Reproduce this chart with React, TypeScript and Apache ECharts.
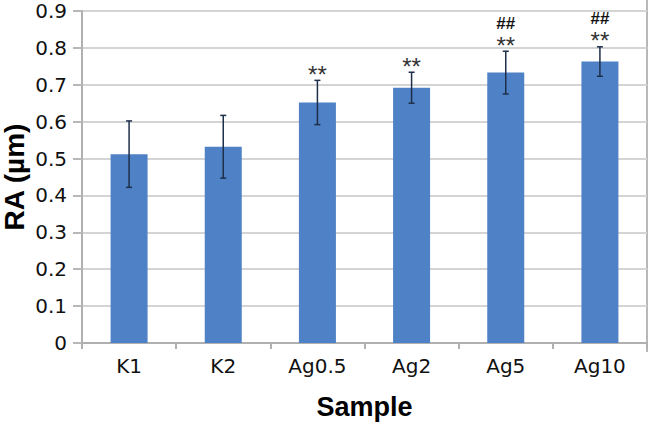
import React, { useEffect, useRef } from "react";
import * as echarts from "echarts";

const categories = ["K1", "K2", "Ag0.5", "Ag2", "Ag5", "Ag10"];
const means = [0.512, 0.532, 0.652, 0.692, 0.733, 0.763];
const errors = [0.09, 0.085, 0.06, 0.042, 0.058, 0.04];
const starMarks = ["", "", "**", "**", "**", "**"];
const hashMarks = ["", "", "", "", "##", "##"];
const yTicks = [0, 0.1, 0.2, 0.3, 0.4, 0.5, 0.6, 0.7, 0.8, 0.9];
const yTitle = "RA (µm)";
const xTitle = "Sample";

export default function App() {
  const ref = useRef<HTMLDivElement>(null);
  useEffect(() => {
    if (!ref.current) return;
    const chart = echarts.init(ref.current, null, { renderer: "svg" });
    const errData = categories.map((_, i) => [i, means[i] - errors[i], means[i] + errors[i]]);
    chart.setOption({
      animation: false,
      grid: { left: 82, right: 3, top: 11, bottom: 74, containLabel: false },
      graphic: [
        {
          type: "line",
          shape: { x1: 647, y1: 0, x2: 647, y2: 352 },
          style: { stroke: "#b8b8b8", lineWidth: 2 },
        },
        {
          type: "text",
          x: 14,
          y: 177,
          rotation: Math.PI / 2,
          style: {
            text: yTitle,
            fontFamily: "Liberation Sans",
            fontSize: 28,
            lineHeight: 24,
            fontWeight: "bold",
            fill: "#000",
            align: "center",
            verticalAlign: "middle",
          },
        },
      ],
      xAxis: {
        type: "category",
        data: categories,
        name: xTitle,
        nameLocation: "middle",
        nameGap: 50,
        nameTextStyle: { fontFamily: "Liberation Sans", fontSize: 27, fontWeight: "bold", color: "#000" },
        axisLine: { lineStyle: { color: "#b0b0b0", width: 2 } },
        axisTick: { show: true, length: 6, lineStyle: { color: "#b0b0b0", width: 2 } },
        axisLabel: { fontFamily: "DejaVu Sans", fontSize: 20, color: "#111", margin: 13 },
      },
      yAxis: {
        type: "value",
        min: 0,
        max: 0.9,
        interval: 0.1,
        axisLine: { show: true, lineStyle: { color: "#b0b0b0", width: 2 } },
        axisTick: { show: true, length: 9, lineStyle: { color: "#b8b8b8", width: 2 } },
        axisLabel: {
          fontFamily: "DejaVu Sans",
          fontSize: 20,
          color: "#111",
          margin: 15,
          formatter: (v: number) => {
            const t = yTicks.find((y) => Math.abs(y - v) < 1e-6);
            return t === 0 ? "0" : (t ?? v).toFixed(1);
          },
        },
        splitLine: { lineStyle: { color: "#d4d4d4", width: 2 } },
      },
      series: [
        {
          type: "bar",
          data: means,
          barWidth: 37,
          itemStyle: { color: "#4f81c6" },
          z: 2,
        },
        {
          type: "custom",
          data: errData,
          z: 5,
          renderItem: (params: any, api: any) => {
            const i = api.value(0);
            const lo = api.coord([i, api.value(1)]);
            const hi = api.coord([i, api.value(2)]);
            const x = hi[0];
            const cap = 3;
            const style = { stroke: "#1e2f4a", lineWidth: 1.5 };
            const children: any[] = [
              { type: "line", shape: { x1: x, y1: hi[1], x2: x, y2: lo[1] }, style },
              { type: "line", shape: { x1: x - cap, y1: hi[1], x2: x + cap, y2: hi[1] }, style },
              { type: "line", shape: { x1: x - cap, y1: lo[1], x2: x + cap, y2: lo[1] }, style },
            ];
            const idx = params.dataIndex;
            if (starMarks[idx]) {
              children.push({
                type: "text",
                x: x,
                y: hi[1] - 6,
                style: {
                  text: starMarks[idx],
                  fontFamily: "Liberation Sans",
                  fontSize: 24,
                  lineHeight: 16,
                  fill: "#333",
                  align: "center",
                  verticalAlign: "middle",
                },
              });
            }
            if (hashMarks[idx]) {
              children.push({
                type: "text",
                x: x,
                y: hi[1] - 28,
                style: {
                  text: hashMarks[idx],
                  fontFamily: "Liberation Sans",
                  fontSize: 17,
                  lineHeight: 14,
                  fontWeight: "bold",
                  fill: "#111",
                  align: "center",
                  verticalAlign: "middle",
                },
              });
            }
            return { type: "group", children };
          },
        },
      ],
    });
    return () => chart.dispose();
  }, []);
  return <div ref={ref} style={{ width: 650, height: 425, position: "absolute", left: 0, top: 0, background: "#fff" }} />;
}
